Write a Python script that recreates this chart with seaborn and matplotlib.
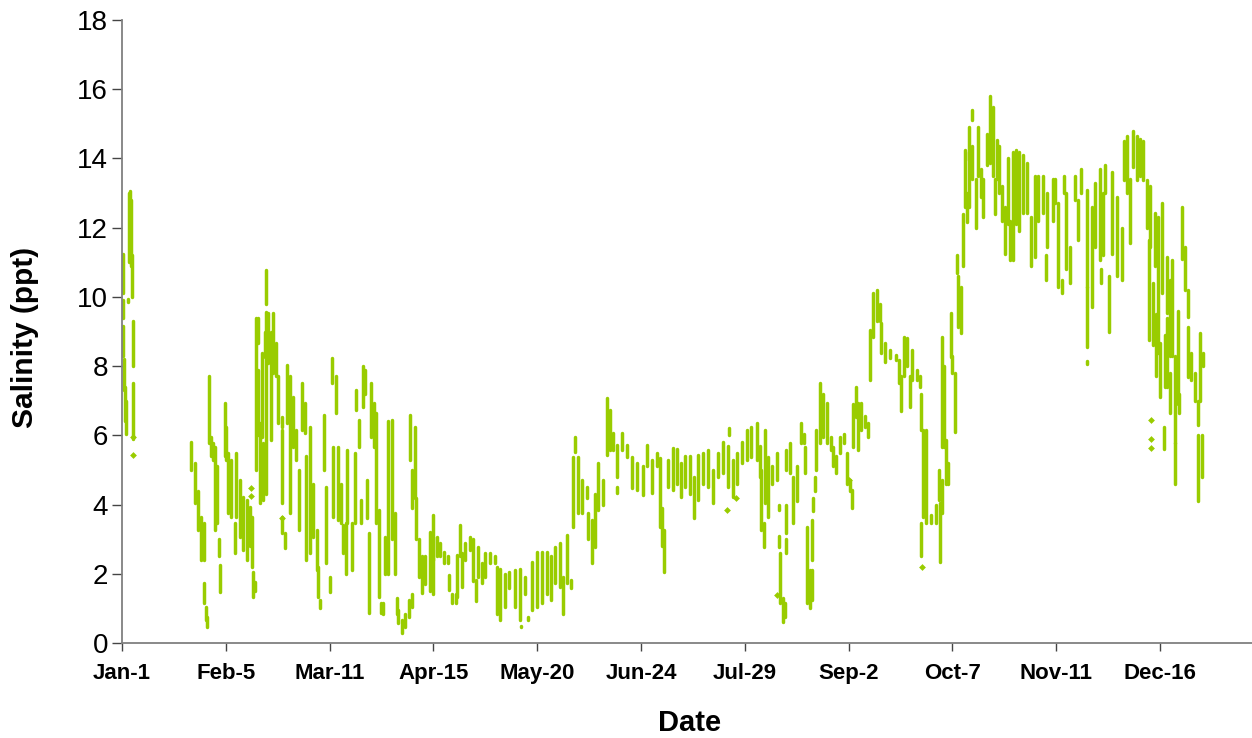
import seaborn as sns
import pandas as pd
import matplotlib.pyplot as plt

# Day of year on x, salinity swings on y: (day, lowest, highest)
tick_days = [0, 35, 70, 105, 140, 175, 210, 245, 280, 315, 350]
tick_labels = ['Jan-1', 'Feb-5', 'Mar-11', 'Apr-15', 'May-20', 'Jun-24', 'Jul-29', 'Sep-2', 'Oct-7', 'Nov-11', 'Dec-16']

winter = [
    (0.3, 10.1, 11.25), (0.3, 9.4, 9.9), (0.5, 8.3, 9.15), (0.7, 7.3, 8.2), (0.9, 6.4, 7.4), (1.4, 6.05, 7.0),
    (2.0, 9.85, 9.95), (2.4, 11.0, 13.0), (2.8, 11.0, 13.05), (3.2, 10.9, 12.8), (3.5, 10.0, 11.2), (3.6, 8.0, 9.3), (3.7, 5.9, 7.5),
    (23.4, 5.0, 5.82), (24.6, 4.04, 5.2), (25.7, 3.27, 4.4), (26.8, 2.4, 3.65), (27.7, 2.4, 3.46), (27.7, 1.15, 1.72), (28.3, 0.66, 1.05), (28.8, 0.47, 0.76),
    (29.3, 5.77, 7.7), (30, 5.39, 5.96), (30.7, 5.29, 5.77), (31.3, 3.27, 5.67), (32.1, 3.46, 5.1), (32.8, 2.5, 3.0), (33.2, 1.48, 2.25),
    (34.7, 5.39, 6.93), (35.2, 5.3, 6.25), (35.8, 3.75, 5.48), (36.9, 3.65, 5.3), (38, 2.6, 3.46), (38.6, 3.65, 5.48), (39.7, 3.07, 4.7),
    (40.9, 2.7, 4.23), (42, 2.4, 4.13), (43.1, 2.8, 3.94), (43.9, 2.2, 3.65), (44.2, 1.34, 2.06), (44.8, 1.5, 1.75),
    (45.3, 5.0, 9.38), (45.9, 8.66, 9.38), (45.9, 6.0, 7.9), (46.5, 4.04, 6.35), (47.1, 5.96, 8.37), (47.6, 4.13, 5.77), (48.2, 8.27, 9.0), (48.4, 9.8, 10.78), (48.4, 4.3, 9.55),
    (49.3, 8.08, 9.53), (50.1, 5.87, 9.0), (51, 7.79, 9.53), (51.8, 7.7, 8.66), (52.6, 6.35, 7.7), (53.8, 6.25, 6.54), (53.8, 4.04, 6.16), (53.8, 3.17, 3.65), (54.9, 2.74, 3.17),
    (55.8, 6.35, 8.03), (56.6, 3.75, 7.7), (57.7, 5.67, 7.12), (58.8, 5.29, 6.16), (59.6, 3.27, 5.0), (60.6, 6.16, 7.5), (61.6, 6.06, 6.93), (62.2, 2.4, 5.39),
    (63.3, 2.6, 6.25), (64.4, 3.07, 4.6), (65.6, 2.11, 3.27), (66.1, 1.34, 2.2), (66.9, 1.0, 1.24),
    (68, 5.0, 6.6), (68.9, 2.3, 4.5), (70, 1.48, 1.9), (70.8, 7.5, 8.23), (71.2, 3.65, 5.67), (72.3, 6.64, 7.7), (72.8, 3.55, 5.67), (74, 3.46, 4.6), (74.6, 2.6, 3.4),
    (75.6, 2.0, 3.46), (75.8, 3.46, 5.58), (77.7, 2.1, 3.46), (78.5, 3.46, 5.48), (79, 6.73, 7.3), (80, 5.67, 6.44), (80.5, 3.46, 4.13), (81.3, 6.83, 8.0), (82, 7.2, 7.9), (82.7, 3.6, 4.7),
    (83.2, 0.86, 3.17), (84, 5.96, 7.5), (84.8, 5.67, 6.93), (85.5, 3.46, 6.64), (86.6, 1.34, 3.84), (87.2, 0.86, 1.15), (88.1, 0.85, 1.15), (88.7, 2.0, 3.07),
    (89.8, 2.0, 6.4), (91.1, 3.0, 6.45), (92.1, 2.0, 3.75), (92.6, 0.85, 1.3), (93.2, 0.57, 0.95), (94.3, 0.3, 0.66), (95.4, 0.47, 0.85), (96.6, 0.76, 1.24), (97.7, 1.05, 1.43),
    (97.1, 5.3, 6.6), (97.7, 3.9, 5.0), (98.8, 4.2, 6.25), (99.2, 3.0, 4.2), (100, 1.9, 3.0), (101.1, 1.44, 2.5), (102.2, 1.7, 2.5),
]

spring = [
    (103.9, 1.5, 3.2), (104.7, 2.4, 3.7), (105, 1.43, 3.07), (106.1, 2.5, 3.07), (107.2, 2.5, 2.88), (108.4, 2.3, 2.64), (110, 2.3, 2.5), (110.2, 1.53, 1.96),
    (111.2, 1.15, 1.43), (112.6, 1.15, 1.43), (113.8, 2.5, 3.4), (113.1, 1.34, 2.54), (114.6, 1.63, 2.6), (115.7, 2.4, 2.88), (117.4, 2.7, 3.07), (118.5, 1.8, 3.0),
    (119.3, 1.2, 1.82), (120.2, 1.9, 2.78), (121.3, 1.72, 2.3), (122.5, 1.9, 2.6), (124.1, 2.3, 2.6), (125.8, 2.3, 2.5), (126.3, 0.85, 2.2), (127.5, 0.66, 2.15),
    (129.2, 1.05, 2.0), (130.6, 1.6, 2.05), (132.5, 1.05, 2.1), (134.2, 0.66, 2.15), (134.4, 0.45, 0.5), (135.9, 1.43, 1.92), (137, 0.66, 0.76), (138.1, 0.95, 2.35),
    (139.8, 1.05, 2.64), (141.5, 1.15, 2.64), (143.2, 1.43, 2.64), (144.6, 1.24, 2.5), (146, 1.72, 2.78), (147.7, 1.63, 2.88), (148.6, 0.85, 1.92), (149.9, 1.72, 3.12), (151.3, 1.58, 1.82),
    (152, 3.36, 5.38), (152.7, 5.53, 5.96), (153.8, 3.75, 5.38), (155, 3.75, 4.7), (156.7, 4.2, 4.5), (157.2, 3.0, 3.75), (158.4, 2.3, 3.55), (159.5, 2.78, 4.3), (160.6, 3.85, 5.2), (162.3, 4.0, 4.7),
    (163.4, 5.43, 7.07), (164.6, 5.58, 6.73), (165.7, 5.58, 6.06), (167, 4.8, 5.72), (167, 4.32, 4.5), (168.5, 5.58, 6.06), (170.2, 5.38, 5.72),
    (171.9, 4.47, 5.38), (173.6, 4.42, 5.2), (175.8, 4.28, 5.1), (177.1, 5.1, 5.72), (178.6, 4.32, 5.29), (180.3, 5.1, 5.5), (181.5, 3.36, 5.34), (182.2, 2.8, 3.9), (182.8, 2.06, 3.27),
]

summer = [
    (184.2, 4.5, 5.3), (185.7, 4.42, 5.63), (187, 4.6, 5.6), (188.4, 4.23, 5.2), (189.8, 4.5, 5.4), (191.5, 4.3, 5.4), (193, 3.6, 4.8), (194.3, 4.13, 5.43), (195.8, 4.6, 5.5), (197.7, 4.5, 5.58),
    (199.4, 4.04, 5.0), (201, 4.8, 5.5), (202.7, 4.9, 5.82), (204.4, 4.5, 5.7), (204.8, 6.0, 6.2), (206, 4.23, 5.3), (207.5, 4.6, 5.5), (208.9, 5.2, 5.82), (210.6, 5.29, 6.16), (212.2, 5.38, 6.25),
    (214, 5.3, 6.35), (215, 4.8, 5.7), (215.6, 3.27, 5.0), (216.4, 2.78, 3.46), (216.9, 4.04, 6.15), (217.9, 3.65, 5.38), (219, 4.6, 5.1), (220.7, 4.7, 5.48),
    (221.5, 3.84, 4.0), (221.5, 2.78, 3.1), (221.8, 1.15, 2.6), (222.7, 0.6, 1.3), (223.6, 0.76, 1.15),
    (223.8, 5.0, 5.58), (225.2, 4.9, 5.77), (224, 3.17, 4.0), (224, 2.6, 3.0), (226.4, 3.46, 4.8), (227.5, 4.1, 5.1), (228.8, 5.77, 6.35), (229.8, 5.77, 6.05), (230.4, 4.9, 5.67),
    (231, 1.15, 3.36), (231.9, 1.0, 2.1), (233, 3.8, 4.2), (233.5, 4.4, 4.8), (232.8, 2.4, 3.55), (232.8, 1.24, 2.1),
    (234, 5.0, 6.16), (235.3, 5.77, 7.5), (236.5, 5.96, 7.2), (237.6, 5.77, 6.93), (239.2, 5.58, 5.96), (239.8, 5.1, 5.67), (240.9, 4.9, 5.4), (242, 5.5, 5.96), (243.5, 5.77, 6.05), (244.3, 4.6, 5.48), (245.4, 4.4, 4.7), (246, 3.9, 4.42),
    (246.5, 5.67, 6.9), (247.6, 6.54, 7.4), (248.2, 5.57, 6.93), (249.3, 6.15, 6.93), (250.4, 6.25, 6.55), (251.5, 5.96, 6.35),
    (252.1, 7.6, 9.05), (253.2, 8.85, 10.1), (254.4, 9.3, 10.2), (255.5, 9.3, 9.8), (256, 8.37, 9.24), (257.2, 8.13, 8.66), (258.9, 8.23, 8.47), (261.1, 8.18, 8.32), (262, 7.5, 8.18), (262.8, 6.7, 7.7),
    (263.6, 7.7, 8.85), (264.7, 8.0, 8.8), (265.6, 6.83, 7.7), (266.5, 7.6, 8.47), (267.9, 7.6, 7.9), (269, 7.4, 7.7), (269.3, 6.15, 7.2), (270.1, 3.65, 6.15), (271.2, 3.46, 6.15), (269.5, 2.5, 3.46),
    (272.9, 3.46, 3.7), (274.6, 3.46, 4.0), (275.7, 2.35, 4.04), (275.5, 4.14, 5.0),
]

autumn = [
    (276.4, 5.67, 8.85), (277.1, 5.67, 8.0), (277.8, 4.6, 5.87), (278.6, 4.6, 5.2), (276.4, 3.75, 4.7),
    (279.4, 8.27, 9.53), (280, 7.8, 8.3), (280.9, 6.1, 7.8), (281.4, 10.7, 11.2), (282, 9.14, 10.6), (282.8, 8.95, 10.3), (283.7, 10.9, 12.4), (284.2, 12.6, 14.25), (285, 12.15, 13.0),
    (285.7, 13.96, 14.9), (286.5, 15.1, 15.4), (285.7, 12.6, 14.2), (286.5, 13.4, 14.35), (287.9, 12, 13.4), (288.7, 13.5, 14.9), (289.5, 12.9, 13.7), (290.4, 12.3, 13.4), (291.5, 13.8, 14.7),
    (292.6, 13.86, 15.8), (293.8, 13.5, 15.5), (294.9, 13.4, 14.54), (294.3, 12.4, 13.4), (295.8, 13, 14.35), (296.6, 12.2, 13.2), (297.7, 11.25, 12.6), (298.6, 12.1, 14), (299.4, 11.07, 12.2),
    (300.3, 11.07, 14.2), (301.4, 12.1, 14.25), (302.5, 11.9, 14.2), (303.9, 12.42, 14.1), (305.2, 12.42, 13.86), (306.4, 10.9, 12.3), (307.8, 11.15, 13.5), (309, 12.2, 13.5), (310.6, 12.42, 13.5),
    (312, 11.45, 13), (311.6, 10.5, 11.2), (314, 12.2, 13.4), (314.5, 12.7, 13.4), (315.7, 10.3, 12.7), (317.6, 13, 13.5), (316.8, 10.1, 10.5), (318.3, 10.8, 13), (319.8, 10.4, 11.45),
    (321.3, 12.8, 13.5), (322.4, 11.65, 12.8), (323.5, 13, 13.7), (325.2, 10.3, 13.1), (325.2, 8.56, 10.3), (325.4, 8.05, 8.15), (326.9, 9.7, 12.6), (328, 11.45, 13.3), (329.7, 11.07, 13.7),
    (331.6, 13, 13.8), (330.8, 11.2, 13), (330.2, 10.4, 10.8), (332.8, 9.0, 10.6), (333.7, 11.25, 13.6), (335.4, 10.6, 12.9), (337, 10.49, 12), (337.8, 13.38, 14.5), (338.7, 13, 14.65),
    (340, 11.55, 13.4), (341, 13.76, 14.8), (342.1, 13.38, 14.65), (343.2, 13.48, 14.55), (344.3, 13.38, 14.5), (345.7, 12, 13.38), (346.6, 11.45, 13.2), (346.4, 8.75, 11.65),
    (347.6, 8.6, 10.4), (348.3, 10.9, 12.42), (348.6, 7.7, 9.5), (349.4, 8.37, 12.3), (350, 7.1, 8.66), (350.5, 10.1, 12.7), (351.3, 5.6, 6.25), (351.5, 7.4, 8.9), (352.2, 9.53, 11.15),
    (352.4, 7.4, 9.4), (353.3, 6.64, 7.8), (353.3, 8.3, 10.5), (354.1, 8.3, 11.07), (355, 4.6, 5.77), (355, 5.77, 8.3), (356.2, 6.9, 9.6), (356.5, 6.64, 7.2), (357.3, 11.1, 12.6), (358.4, 10.2, 11.45),
    (359.5, 9.43, 10.2), (359.5, 7.68, 9.14), (360.6, 7.6, 8.37), (361.7, 7, 7.8), (362.8, 6.3, 7), (363.4, 7, 8.95), (364.5, 7.99, 8.37), (362.8, 4.1, 6), (364, 4.8, 6),
]

stray_days = [3.6, 3.6, 43.4, 43.4, 54.0, 204.0, 207.0, 221.0, 245.0, 269.8, 347.0, 347.0, 347.0]
stray_salinity = [5.43, 5.95, 4.47, 4.25, 3.6, 3.84, 4.2, 1.39, 4.71, 2.2, 6.45, 5.9, 5.63]

df = pd.DataFrame(winter + spring + summer + autumn, columns=['Day', 'Low', 'High'])
strays = pd.DataFrame({'Day': stray_days, 'Salinity': stray_salinity})

green = '#99CC00'
sns.set_style('white', {'text.color': 'black', 'axes.labelcolor': 'black', 'xtick.color': 'black', 'ytick.color': 'black'})
plt.rcParams['font.family'] = ['Liberation Sans', 'DejaVu Sans']

fig = plt.figure(figsize=(12.52, 7.38), dpi=100)
ax = fig.add_axes([122 / 1252, 1 - 643 / 738, 1 - 122 / 1252, 623 / 738])

ax.vlines(df['Day'], df['Low'], df['High'], color=green, lw=2.5, capstyle='round')
sns.scatterplot(data=strays, x='Day', y='Salinity', color=green, s=12, marker='D', linewidth=0, ax=ax)

ax.set_xlim(0, 381)
ax.set_ylim(0, 18)
ax.set_xticks(tick_days)
ax.set_xticklabels(tick_labels, fontsize=16, fontweight='bold')
ax.set_yticks(range(0, 20, 2))
ax.tick_params(axis='y', labelsize=20, length=7, width=1, color='#444444', pad=3, left=True)
ax.tick_params(axis='x', length=5.5, width=1, color='#444444', pad=9, bottom=True)
ax.set_xlabel('Date', fontsize=21, fontweight='bold', va='center')
ax.set_ylabel('Salinity (ppt)', fontsize=21.5, fontweight='bold', va='center')
ax.xaxis.set_label_coords((690 - 122) / 1130, -(723 - 643) / 623)
ax.yaxis.set_label_coords((25 - 122) / 1130, (643 - 337) / 623)

sns.despine(ax=ax)
for side in ['left', 'bottom']:
    ax.spines[side].set_color('#808080')
    ax.spines[side].set_linewidth(1.3)

plt.savefig('out.png', dpi=100)
